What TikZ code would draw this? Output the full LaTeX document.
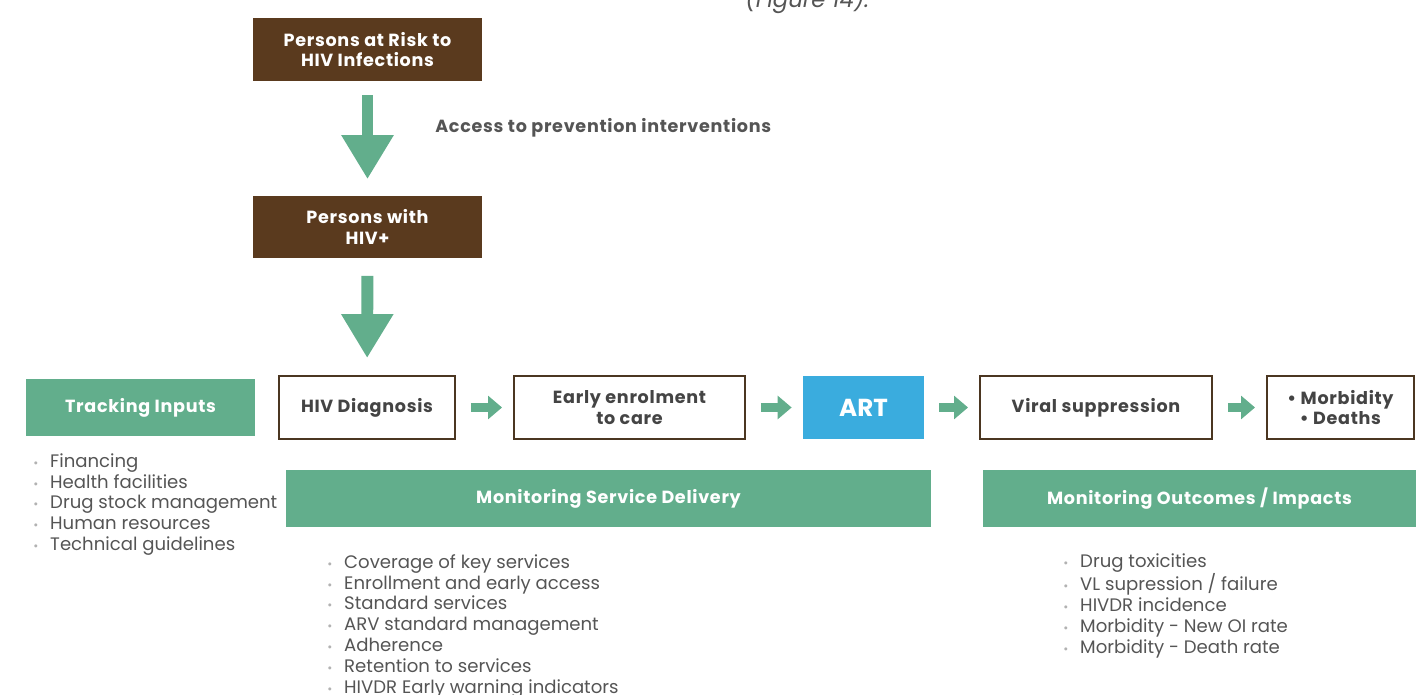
\documentclass[tikz,border=0pt]{standalone}
\usepackage{fontspec}
\setmainfont{Poppins}
\newfontfamily\ancha[LetterSpace=4]{Poppins}
\usetikzlibrary{arrows.meta,positioning}

\definecolor{cafe}{RGB}{90,58,30}
\definecolor{verde}{RGB}{98,174,140}
\definecolor{azul}{RGB}{58,172,222}
\definecolor{borde}{RGB}{75,54,33}
\definecolor{texto}{RGB}{85,85,85}
\newcommand{\punto}{\makebox[9.6pt][l]{\textcolor{gray!60}{\scriptsize\textbullet}}}

\begin{document}
\begin{tikzpicture}[x=0.02cm,y=-0.02cm,
  oscura/.style={fill=cafe,text=white,align=center,inner sep=0pt,
    font=\fontsize{10}{11.8}\ancha\bfseries,minimum width=4.58cm,minimum height=1.26cm},
  caja/.style={draw=borde,line width=1.1pt,fill=white,text=texto!80!black,align=center,inner sep=0pt,
    font=\fontsize{10}{11.8}\ancha\bfseries,minimum height=1.26cm},
  banda/.style={fill=verde,text=white,inner sep=0pt,
    font=\fontsize{10}{11.8}\ancha\bfseries,minimum height=1.14cm},
  lista/.style={anchor=north west,align=left,text=texto,inner sep=0pt,
    font=\fontsize{10.3}{11.9}\selectfont},
  flecha/.style={-{Triangle[length=25pt,width=28pt]},draw=verde,line width=6.8pt},
  flechita/.style={-{Triangle[length=8pt,width=13pt]},draw=verde,line width=5pt,
    shorten <=0.3cm,shorten >=0.22cm}]
  \useasboundingbox (0,0) rectangle (1416,695);

  % Leyenda cortada arriba
  \node[anchor=base west,inner sep=0pt,text=texto,font=\fontsize{13}{14}\selectfont\itshape] (leyenda) at (745,8) {(Figure 14).};

  % Poblaciones
  \node[oscura] (riesgo) at (367.5,49.5) {Persons at Risk to\\HIV Infections};
  \node[oscura] (vih) at (367.5,227) {Persons with\\HIV+};
  \node[anchor=west,inner sep=0pt,text=texto,font=\fontsize{10}{11.8}\ancha\bfseries] (acceso) at (435,128) {Access to prevention interventions};

  % Cascada
  \node[banda,minimum width=4.58cm] (insumos) at (140.5,407.5) {Tracking Inputs};
  \node[caja,minimum width=3.52cm] (diag) at (367,407.5) {HIV Diagnosis};
  \node[caja,minimum width=4.62cm] (enrol) at (629.5,407.5) {Early enrolment\\to care};
  \node[fill=azul,text=white,inner sep=0pt,font=\fontsize{14}{16}\selectfont\bfseries,
    minimum width=2.42cm,minimum height=1.26cm] (art) at (863.5,407.5) {ART};
  \node[caja,minimum width=4.64cm] (viral) at (1096,407.5) {Viral suppression};
  \node[caja,minimum width=2.94cm] (morb) at (1340.5,407.5) {\textbullet\ Morbidity\\\textbullet\ Deaths};

  % Bandas de monitoreo
  \node[banda,minimum width=12.9cm] (servicio) at (608.5,498.5) {Monitoring Service Delivery};
  \node[banda,minimum width=8.66cm] (impacto) at (1199.5,498.5) {Monitoring Outcomes / Impacts};

  % Listas
  \node[lista] (lInsumos) at (33,453) {\punto Financing\\\punto Health facilities\\\punto Drug stock management\\
    \punto Human resources\\\punto Technical guidelines};
  \node[lista] (lServicio) at (327,554) {\punto Coverage of key services\\\punto Enrollment and early access\\
    \punto Standard services\\\punto ARV standard management\\\punto Adherence\\
    \punto Retention to services\\\punto HIVDR Early warning indicators};
  \node[lista] (lImpacto) at (1063,553) {\punto Drug toxicities\\\punto VL supression / failure\\
    \punto HIVDR incidence\\\punto Morbidity - New OI rate\\\punto Morbidity - Death rate};

  % Flechas grandes
  \draw[flecha,shorten <=0.28cm,shorten >=0.32cm] (riesgo) -- (vih);
  \draw[flecha,shorten <=0.34cm,shorten >=0.34cm] (vih) -- (diag);

  % Flechas pequenas
  \draw[flechita] (diag) -- (enrol);
  \draw[flechita] (enrol) -- (art);
  \draw[flechita] (art) -- (viral);
  \draw[flechita] (viral) -- (morb);
\end{tikzpicture}
\end{document}
